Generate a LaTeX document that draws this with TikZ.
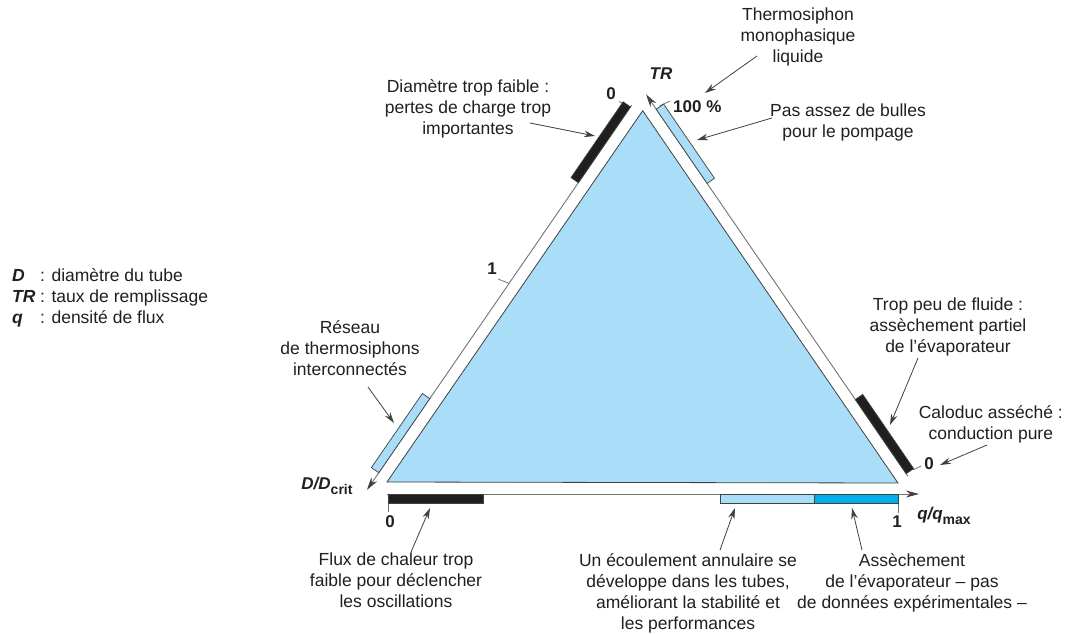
\documentclass[tikz,border=0pt]{standalone}
\usepackage{fontspec}
\setmainfont{Liberation Sans}
\usetikzlibrary{arrows.meta,calc}
\definecolor{triblue}{RGB}{170,222,248}
\definecolor{barcyan}{RGB}{0,176,236}
\definecolor{txt}{RGB}{35,31,32}
\definecolor{axisgrey}{RGB}{115,115,115}
\definecolor{edgegrey}{RGB}{65,65,65}
\newcommand{\bi}[1]{\textbf{\textit{#1}}}
\newcommand{\sub}[1]{\raisebox{-0.32em}{\fontsize{14}{14}\selectfont\bfseries #1}}
\begin{document}
\begin{tikzpicture}[x=1pt,y=-1pt,
  lbl/.style={font=\fontsize{17.5}{21}\selectfont, text=txt, align=center, inner sep=0pt},
  num/.style={font=\fontsize{17}{21}\selectfont\bfseries, text=txt, inner sep=0pt},
  leader/.style={draw=edgegrey, line width=0.8pt, -{Stealth[length=11pt,width=6.5pt]}},
  axisline/.style={draw=axisgrey, line width=0.9pt, -{Stealth[length=13pt,width=7pt,color=edgegrey]}},
  tickline/.style={draw=axisgrey, line width=0.8pt},
  barshape/.style={draw=edgegrey, line width=0.7pt},
]
\useasboundingbox (0,0) rectangle (1065,634);
\fill[white] (0,0) rectangle (1065,634);

% triangle
\coordinate (A) at (387,482);
\coordinate (B) at (898,483);
\coordinate (C) at (642.7,110.7);
\fill[triblue] (A) -- (B) -- (C) -- cycle;
\draw[edgegrey, line width=0.8pt] (A) -- (B) -- (C) -- cycle;

% axes
\coordinate (LT) at (631.7,105.2);
\coordinate (LE) at (366.9,490.0);
\coordinate (RS) at (907.9,476.2);
\coordinate (RT) at (646.0,94.3);
\coordinate (BS) at (387,494);
\coordinate (BE) at (919,494);
\draw[axisline] (LT) -- (LE);
\draw[axisline] (RS) -- (RT);
\draw[axisline] (BS) -- (BE);

% ticks under bars
\draw[tickline] (628.5,106.5) -- (619,101.5);
\draw[tickline] (659.5,106) -- (670,101);
\draw[tickline] (509.1,283.4) -- (498,279);
\draw[tickline] (913,470) -- (921,466);
\draw[tickline] (388,503) -- (388,512);
\draw[tickline] (898,503) -- (898,513);

% bars on left side
\filldraw[barshape, fill=black!88] (578.4,182.7) -- (630.5,106.9) -- (623.1,101.8) -- (571.0,177.6) -- cycle;
\filldraw[barshape, fill=triblue] (378.8,472.7) -- (429.8,398.6) -- (422.4,393.5) -- (371.4,467.6) -- cycle;
% bars on right side
\filldraw[barshape, fill=triblue] (707.1,183.4) -- (656.2,109.2) -- (663.6,104.1) -- (714.5,178.3) -- cycle;
\filldraw[barshape, fill=black!88] (906.2,473.7) -- (855.3,399.5) -- (862.7,394.4) -- (913.6,468.6) -- cycle;
% bars on bottom axis
\filldraw[barshape, fill=black!88] (388,494) rectangle (483,503);
\filldraw[barshape, fill=triblue] (720,494) rectangle (814,503);
\filldraw[barshape, fill=barcyan] (814,494) rectangle (898,503);

% scale numbers
\node[num] (n0l) at (611,94) {0};
\node[num, anchor=west] (n100) at (673,107) {100 \%};
\node[num] (n1l) at (492,269) {1};
\node[num] (n0r) at (929,464) {0};
\node[num] (n0b) at (390,522) {0};
\node[num] (n1b) at (897,522) {1};

% axis names
\node[num] (TR) at (661,74) {\bi{TR}};
\node[num] (Dax) at (327,486) {\bi{D/D}\sub{crit}};
\node[num] (qax) at (944,516) {\bi{q/q}\sub{max}};

% legend
\node[lbl, anchor=base west] (legD) at (12,281) {\bi{D}};
\node[lbl, anchor=base west] (legDt) at (40,281) {: diamètre du tube};
\node[lbl, anchor=base west] (legTR) at (12,302.5) {\bi{TR}};
\node[lbl, anchor=base west] (legTRt) at (40,302.5) {: taux de remplissage};
\node[lbl, anchor=base west] (legq) at (12,323.5) {\bi{q}};
\node[lbl, anchor=base west] (legqt) at (40,323.5) {: densité de flux};

% text blocks
\node[lbl] (t1) at (798,37) {Thermosiphon\\monophasique\\liquide};
\node[lbl] (t2) at (848,122) {Pas assez de bulles\\pour le pompage};
\node[lbl] (t3) at (468,109) {Diamètre trop faible :\\pertes de charge trop\\importantes};
\node[lbl] (t5) at (350,348) {Réseau\\de thermosiphons\\interconnectés};
\node[lbl] (t6) at (948,327) {Trop peu de fluide :\\assèchement partiel\\de l'évaporateur};
\node[lbl, anchor=east] (t7) at (1063,424) {Caloduc asséché :\\conduction pure};
\node[lbl] (t8) at (396,580) {Flux de chaleur trop\\faible pour déclencher\\les oscillations};
\node[lbl] (t9) at (688,593) {Un écoulement annulaire se\\développe dans les tubes,\\améliorant la stabilité et\\les performances};
\node[lbl] (t10) at (912,583) {Assèchement\\de l'évaporateur -- pas\\de données expérimentales --};

% leader arrows
\coordinate (s1) at (757,56);   \coordinate (e1) at (705,93);
\coordinate (s2) at (772,118);  \coordinate (e2) at (697,140);
\coordinate (s3) at (530,123);  \coordinate (e3) at (595,136);
\coordinate (s5) at (368,387);  \coordinate (e5) at (394,423);
\coordinate (s6) at (918,358);  \coordinate (e6) at (890,425);
\coordinate (s7) at (987,445);  \coordinate (e7) at (940,465);
\coordinate (s8) at (411,552);  \coordinate (e8) at (430,508);
\coordinate (s9) at (720,550);  \coordinate (e9) at (735,508);
\coordinate (s10) at (862,550); \coordinate (e10) at (852,508);
\foreach \i in {1,2,3,5,6,7,8,9,10}{\draw[leader] (s\i) -- (e\i);}
\end{tikzpicture}
\end{document}
